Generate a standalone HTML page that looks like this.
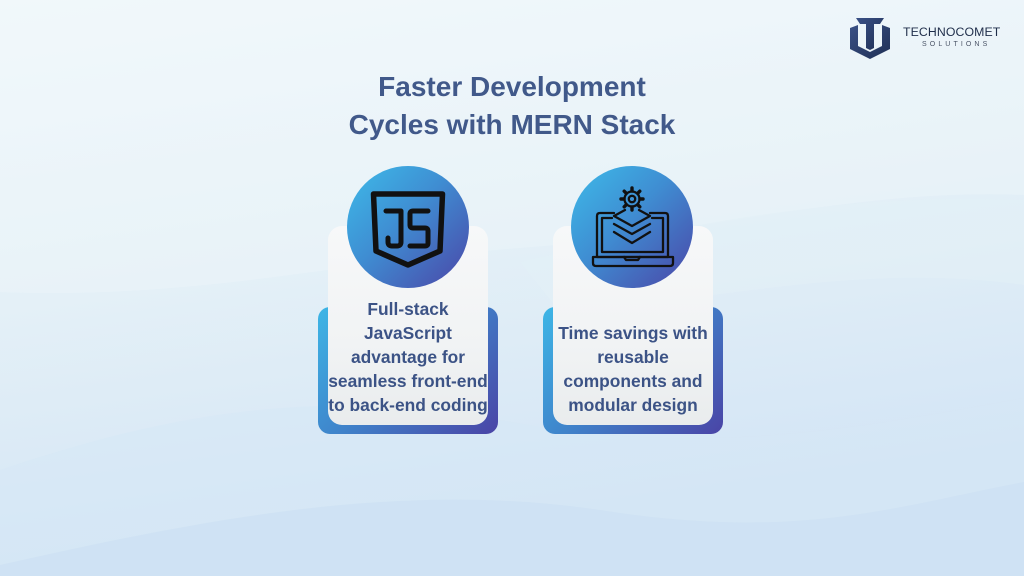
<!DOCTYPE html>
<html><head><meta charset="utf-8">
<style>
html,body{margin:0;padding:0;}
body{width:1024px;height:576px;position:relative;overflow:hidden;font-family:"Liberation Sans",sans-serif;background:#e6f1f7;}
.abs{position:absolute;}
.blue{position:absolute;border-radius:12px;background:linear-gradient(135deg,#3db6e6 0%,#3f86cc 45%,#4a44a6 100%);}
.white{position:absolute;border-radius:14px;background:linear-gradient(180deg,#f7f8f9 0%,#f1f3f4 60%,#e9eced 100%);}
.circ{position:absolute;width:122px;height:122px;border-radius:50%;background:linear-gradient(135deg,#3dbbe9 0%,#3f8dd2 45%,#4b45a7 100%);}
.txt{position:absolute;text-align:center;color:#3c5386;font-weight:bold;font-size:17.4px;line-height:24px;white-space:nowrap;}
.title{position:absolute;left:0;width:1024px;text-align:center;color:#41598a;font-weight:bold;font-size:28px;line-height:38px;top:68px;}
</style></head>
<body>
<svg class="abs" style="left:0;top:0" width="1024" height="576" viewBox="0 0 1024 576">
<defs>
<linearGradient id="bg" x1="0" y1="0" x2="0.25" y2="1">
<stop offset="0" stop-color="#f1f8fa"/>
<stop offset="0.5" stop-color="#e4f0f7"/>
<stop offset="1" stop-color="#d2e4f5"/>
</linearGradient>
</defs>
<rect width="1024" height="576" fill="url(#bg)"/>
<path d="M0,0 H1024 V195 C850,188 700,235 520,248 C350,260 200,300 0,292 Z" fill="#f3f9fb" opacity="0.3"/>
<path d="M520,262 C660,232 820,192 1024,200 V285 C860,262 720,300 560,312 Z" fill="#e3f0f7" opacity="0.6"/>
<path d="M0,470 C150,420 300,385 500,420 C700,458 850,430 1024,398 V576 H0 Z" fill="#d5e7f5" opacity="0.5"/>
<path d="M0,565 C200,520 400,480 600,510 C800,542 900,505 1024,482 V576 H0 Z" fill="#cbdff3" opacity="0.55"/>
</svg>

<!-- Logo -->
<svg class="abs" style="left:846px;top:14px" width="48" height="46" viewBox="0 0 48 46">
<defs><linearGradient id="lg" x1="0" y1="0" x2="1" y2="1"><stop offset="0" stop-color="#3a5186"/><stop offset="1" stop-color="#1f2f55"/></linearGradient></defs>
<path d="M4,14 L12,11 L12,32 L24,38 L36,32 L36,11 L44,14 L44,35 L24,45 L4,35 Z" fill="url(#lg)"/>
<path d="M10,4 L38,4 L34,10 L28,10 L28,34 L24,36 L20,34 L20,10 L14,10 Z" fill="url(#lg)"/>
</svg>
<div class="abs" style="left:903px;top:25px;font-size:12.3px;color:#1f2d4a;letter-spacing:0.1px;line-height:14px;">TECHNOCOMET</div>
<div class="abs" style="left:922px;top:41px;font-size:7px;color:#4a5366;letter-spacing:3.1px;line-height:8px;">SOLUTIONS</div>

<div class="title">Faster Development<br>Cycles with MERN Stack</div>

<!-- Card 1 -->
<div class="blue" style="left:318px;top:307px;width:180px;height:127px;"></div>
<div class="white" style="left:328px;top:226px;width:160px;height:199px;"></div>
<div class="circ" style="left:347px;top:166px;"></div>
<svg class="abs" style="left:347px;top:166px" width="122" height="122" viewBox="347 166 122 122">
<path d="M373.5,194 L442.5,194 L440,251 L408,265 L376,251 Z" fill="none" stroke="#111" stroke-width="5.5" stroke-linejoin="round"/>
<path d="M386,211 L401,211 L401,242 Q401,246 397,246 L392,246 Q388,246 388,242 L388,238" fill="none" stroke="#111" stroke-width="5" stroke-linejoin="round" stroke-linecap="round"/>
<path d="M428,211 L413,211 Q410,211 410,214 L410,225 Q410,228 413,228 L425,228 Q428,228 428,231 L428,243 Q428,246 425,246 L410,246" fill="none" stroke="#111" stroke-width="5" stroke-linejoin="round" stroke-linecap="round"/>
</svg>
<div class="txt" style="left:318px;width:180px;top:297px;">Full-stack<br>JavaScript<br>advantage for<br>seamless front-end<br>to back-end coding</div>

<!-- Card 2 -->
<div class="blue" style="left:543px;top:307px;width:180px;height:127px;"></div>
<div class="white" style="left:553px;top:226px;width:160px;height:199px;"></div>
<div class="circ" style="left:571px;top:166px;"></div>
<svg class="abs" style="left:571px;top:166px" width="122" height="122" viewBox="571 166 122 122" fill="none" stroke="#111" stroke-width="2.3" stroke-linejoin="round" stroke-linecap="round">
<g transform="translate(632,199)">
<circle r="7.5"/>
<circle r="3.2"/>
<g stroke-width="3.4">
<line x1="0" y1="-8" x2="0" y2="-11"/>
<line x1="0" y1="8" x2="0" y2="11"/>
<line x1="-8" y1="0" x2="-11" y2="0"/>
<line x1="8" y1="0" x2="11" y2="0"/>
<line x1="5.7" y1="5.7" x2="7.8" y2="7.8"/>
<line x1="-5.7" y1="5.7" x2="-7.8" y2="7.8"/>
<line x1="5.7" y1="-5.7" x2="7.8" y2="-7.8"/>
<line x1="-5.7" y1="-5.7" x2="-7.8" y2="-7.8"/>
</g>
</g>
<path d="M614,213 L600,213 Q597,213 597,216 L597,257 L668,257 L668,216 Q668,213 665,213 L650,213"/>
<path d="M612,218 L602,218 L602,252 L663,252 L663,218 L652,218"/>
<path d="M593,257 L673,257 L673,263 Q673,266 670,266 L596,266 Q593,266 593,263 Z"/>
<path d="M624,257 L626,260 L638,260 L640,257"/>
<path d="M614,216 L625,210 M639,210 L650,216 L632,226 L614,216"/>
<path d="M614,224 L632,234 L650,224"/>
<path d="M614,232 L632,243 L650,232"/>
</svg>
<div class="txt" style="left:543px;width:180px;top:321px;">Time savings with<br>reusable<br>components and<br>modular design</div>

</body></html>
